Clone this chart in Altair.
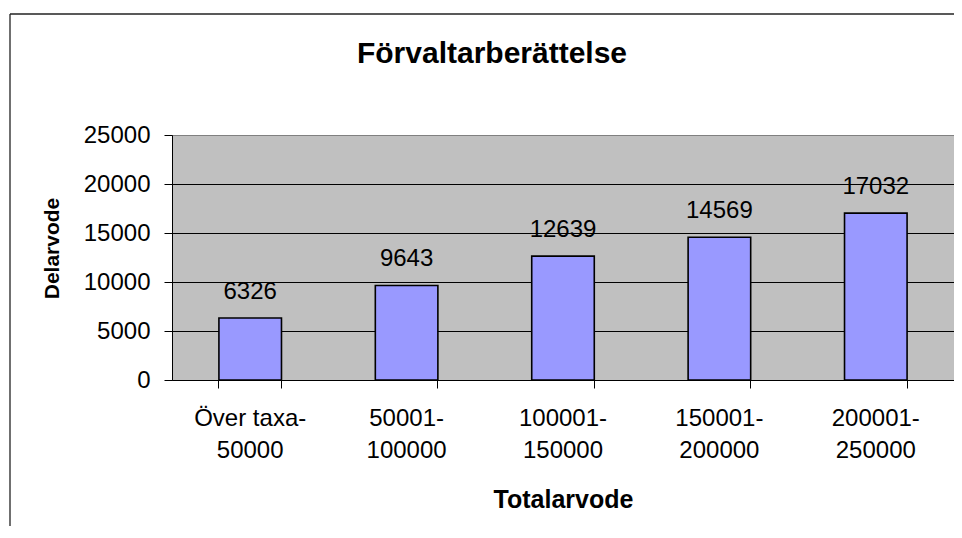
import altair as alt
import pandas as pd

# Data
cat_line1 = ["Över taxa-", "50001-", "100001-", "150001-", "200001-"]
cat_line2 = ["50000", "100000", "150000", "200000", "250000"]
values = [6326, 9643, 12639, 14569, 17032]
y_ticks = [0, 5000, 10000, 15000, 20000, 25000]
chart_title = "Förvaltarberättelse"

categories = [a + "\n" + b for a, b in zip(cat_line1, cat_line2)]
df = pd.DataFrame({"kategori": categories, "delarvode": values})

FONT = "Liberation Sans"
W, H = 782, 245

x_enc = alt.X(
    "kategori:N",
    sort=categories,
    scale=alt.Scale(paddingInner=0.6, paddingOuter=0.3),
    axis=alt.Axis(
        title="Totalarvode",
        labelExpr="isValid(datum.value) ? split(datum.value, '\\n') : ''",
        labelAngle=0,
        labelFontSize=24,
        labelLineHeight=32,
        labelPadding=18,
        labelColor="black",
        labelFont=FONT,
        bandPosition=1,
        tickExtra=True,
        tickSize=8,
        tickColor="black",
        domainColor="black",
        titleFont=FONT,
        titleFontSize=25,
        titleFontWeight="bold",
        titleColor="black",
        titleX=W / 2,
        titleY=127,
        titleBaseline="alphabetic",
        titleAlign="center",
        grid=False,
    ),
)

y_enc = alt.Y(
    "delarvode:Q",
    scale=alt.Scale(domain=[0, 25000], nice=False),
    axis=alt.Axis(
        title="Delarvode",
        values=y_ticks,
        format="d",
        labelFontSize=24,
        labelFont=FONT,
        labelColor="black",
        labelPadding=14,
        tickSize=8,
        tickColor="black",
        domainColor="black",
        gridColor={
            "condition": {"test": "datum.value === 25000", "value": "#808080"},
            "value": "black",
        },
        gridWidth=1,
        grid=True,
        titleFont=FONT,
        titleFontSize=21,
        titleFontWeight="bold",
        titleColor="black",
        titleAngle=-90,
        titleX=-120,
        titleY=113,
        titleAlign="center",
        titleBaseline="middle",
    ),
)

bars = alt.Chart(df).mark_bar(
    color="#9999FF", stroke="black", strokeWidth=1.6
).encode(x=x_enc, y=y_enc)

labels = alt.Chart(df).mark_text(
    fontSize=24, font=FONT, color="black", baseline="alphabetic", dy=-19
).encode(
    x=alt.X("kategori:N", sort=categories),
    y="delarvode:Q",
    text=alt.Text("delarvode:Q", format="d"),
)

single = alt.Data(values=[{"k": 1}])
title_mark = alt.Chart(single).mark_text(
    font=FONT, fontSize=30, fontWeight="bold", color="black",
    align="center", baseline="alphabetic",
).encode(x=alt.value(320), y=alt.value(-72), text=alt.value(chart_title))

left_border = alt.Chart(single).mark_rule(color="#222222", strokeWidth=1.3).encode(
    x=alt.value(-162), y=alt.value(-121), y2=alt.value(H + 200)
)
top_border = alt.Chart(single).mark_rule(color="#222222", strokeWidth=1.3).encode(
    x=alt.value(-162), x2=alt.value(W + 50), y=alt.value(-121)
)

chart = (
    alt.layer(bars, labels, title_mark, left_border, top_border)
    .properties(
        width=W,
        height=H,
        autosize=alt.AutoSizeParams(type="none"),
        padding={"left": 164, "top": 127, "right": 0, "bottom": 146},
        view=alt.ViewBackground(fill="#C0C0C0", stroke="#808080", strokeWidth=1),
    )
    .configure(background="white")
)

chart.save("out.html", embed_options={"renderer": "svg", "actions": False})
